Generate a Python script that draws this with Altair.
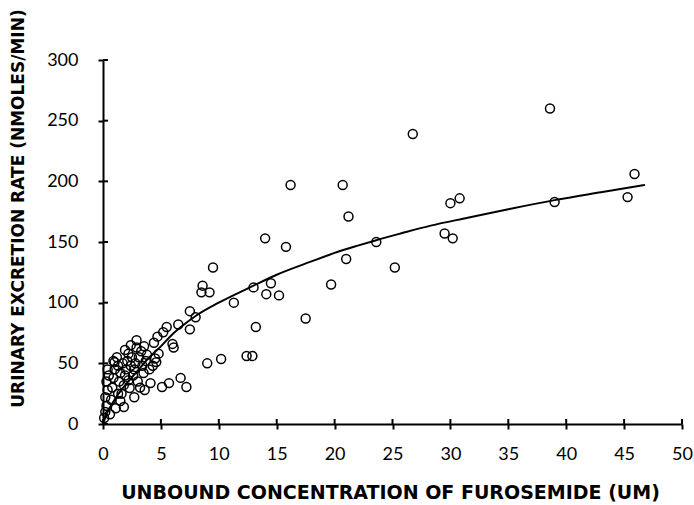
import altair as alt
import pandas as pd

# scatter data: unbound furosemide concentration (uM) vs urinary excretion rate (nmoles/min)
conc = [38.6, 26.75, 45.9, 45.3, 39.0, 30.0, 30.8, 29.5, 30.2,
        16.2, 20.7, 21.2, 14.0, 15.8, 23.6, 21.0, 25.2, 19.7,
        9.5, 8.6, 8.5, 9.2, 13.0, 14.5, 14.1, 15.2, 11.3, 17.5,
        7.5, 8.0, 7.5, 13.2, 9.0, 10.2, 12.4, 12.9,
        6.5, 5.5, 5.2, 4.7, 6.0, 6.1, 4.4,
        6.7, 7.2, 5.7, 5.1, 4.1, 4.3, 4.6,
        0.1, 0.2, 0.3, 0.2, 0.4, 0.3, 0.5, 0.4, 0.6, 0.7,
        0.8, 0.9, 1.0, 1.0, 1.2, 1.1, 1.3, 1.5, 1.4, 1.5, 1.3,
        1.6, 1.8, 1.9, 1.9, 2.0, 2.1, 2.2, 2.3, 2.4, 2.5, 1.7, 2.2,
        2.6, 2.7, 2.8, 2.9, 3.0, 3.1, 3.2, 3.3, 3.4, 2.9, 3.5,
        3.55, 3.7, 3.8, 4.0, 4.5, 4.8, 3.6, 2.7, 1.8, 0.9, 2.4]
rate = [260, 239, 206, 187, 183, 182, 186, 157, 153,
        197, 197, 171, 153, 146, 150, 136, 129, 115,
        129, 114, 108.5, 108.5, 112.6, 116, 107, 106, 100, 87,
        93, 88, 78, 80, 50, 53.6, 56, 56,
        82, 80, 75.6, 72, 66, 63, 67,
        38, 30.5, 33.7, 30.5, 33.7, 48, 51,
        5, 10, 15, 22, 28, 35, 40, 45, 8, 20,
        30, 38, 45, 51, 55, 13, 25, 19, 35, 42, 48,
        25, 32, 40, 61, 45, 52, 36, 29.6, 48, 55, 50, 58,
        40, 45, 50, 69, 35, 55, 30, 60, 48, 63, 42,
        64, 52, 57, 45, 54, 58, 28, 22, 14, 52, 65]

# fitted curve
fit_conc = [0, 0.3, 1, 2, 3, 4, 5, 6, 7, 8, 10, 13, 15, 18, 20, 22, 23.6,
            25.7, 28.3, 31.5, 35, 39, 43, 46.8]
fit_rate = [0, 8, 20, 33, 44, 55, 64, 74, 82, 89, 100, 114, 123, 134, 141, 147, 151.5,
            157, 163.5, 170, 177, 184.5, 191, 197]

x_ticks = [0, 5, 10, 15, 20, 25, 30, 35, 40, 45, 50]
y_ticks = [0, 50, 100, 150, 200, 250, 300]

W, H = 579, 364
LABEL_FONT = "Lato"
TITLE_FONT = "DejaVu Sans"

pts = pd.DataFrame({"conc": conc, "rate": rate})
fit = pd.DataFrame({"conc": fit_conc, "rate": fit_rate})
xt = pd.DataFrame({"t": x_ticks})
yt = pd.DataFrame({"t": y_ticks})

xscale = alt.Scale(domain=[0, 50], nice=False, zero=False)
yscale = alt.Scale(domain=[0, 300], nice=False, zero=False)

xaxis = alt.Axis(values=x_ticks, title="UNBOUND CONCENTRATION OF FUROSEMIDE (UM)",
                 grid=False, domainColor="black", domainWidth=2, tickColor="black",
                 tickWidth=2, tickSize=5, labelFont=LABEL_FONT, labelFontSize=18,
                 labelColor="black", labelPadding=16, titleFont=TITLE_FONT,
                 titleFontSize=19, titleFontWeight="bold", titleColor="black",
                 titleX=287, titleY=68, titleBaseline="middle", labelFlush=False)
yaxis = alt.Axis(values=y_ticks, title="URINARY EXCRETION RATE (NMOLES/MIN)",
                 grid=False, domainColor="black", domainWidth=2, tickColor="black",
                 tickWidth=2, tickSize=5, labelFont=LABEL_FONT, labelFontSize=18,
                 labelColor="black", labelPadding=20, titleFont=TITLE_FONT,
                 titleFontSize=17, titleFontWeight="bold", titleColor="black",
                 titleX=-85, titleY=148, titleAlign="center", titleBaseline="middle",
                 labelFlush=False)

points = alt.Chart(pts).mark_point(shape="circle", filled=False, color="black",
                                   size=80, strokeWidth=1.5, opacity=1).encode(
    x=alt.X("conc:Q", scale=xscale, axis=xaxis),
    y=alt.Y("rate:Q", scale=yscale, axis=yaxis),
)

curve = alt.Chart(fit).mark_line(color="black", strokeWidth=2, interpolate="monotone").encode(
    x=alt.X("conc:Q", scale=xscale),
    y=alt.Y("rate:Q", scale=yscale),
)

xin = alt.Chart(xt).mark_rule(color="black", strokeWidth=2).encode(
    x=alt.X("t:Q", scale=xscale),
    y=alt.value(H), y2=alt.value(H - 5),
)
yin = alt.Chart(yt).mark_rule(color="black", strokeWidth=2).encode(
    y=alt.Y("t:Q", scale=yscale),
    x=alt.value(0), x2=alt.value(5),
)

chart = alt.layer(points, curve, xin, yin).properties(
    width=W, height=H,
    autosize=alt.AutoSizeParams(type="none"),
    padding={"left": 103, "top": 60, "right": 12, "bottom": 81},
    background="white",
).configure_view(stroke=None)

chart.save("out.html", embed_options={"renderer": "svg", "actions": False})
